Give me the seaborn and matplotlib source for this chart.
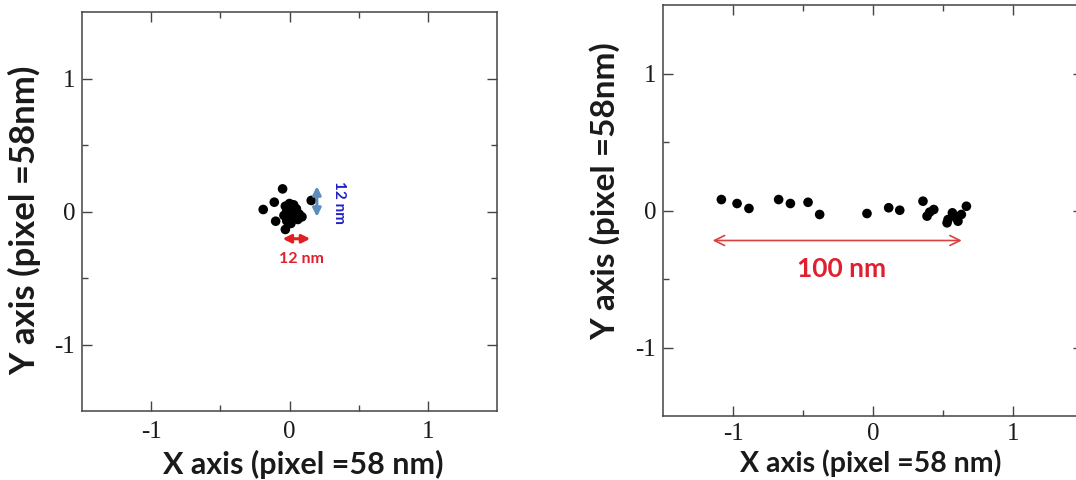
import matplotlib
matplotlib.use("Agg")
import matplotlib.pyplot as plt
import seaborn as sns
import pandas as pd

# ---- data ----
left_x = [-0.05, -0.11, -0.19, -0.10, -0.03, 0.157,
          -0.03, 0.00, 0.03, 0.05, -0.02, 0.01, 0.04, 0.07, 0.09, -0.04,
          0.00, 0.03, 0.06, -0.02, 0.01, 0.02, -0.01, 0.05]
left_y = [0.17, 0.07, 0.015, -0.073, -0.135, 0.083,
          0.04, 0.06, 0.05, 0.02, 0.00, 0.01, -0.01, -0.02, -0.04, -0.03,
          -0.04, -0.05, -0.06, -0.07, -0.09, -0.02, 0.03, -0.03]

right_x = [-1.083, -0.971, -0.886, -0.674, -0.590, -0.464, -0.381,
           -0.043, 0.112, 0.191, 0.357, 0.386, 0.434, 0.405,
           0.536, 0.567, 0.596, 0.631, 0.667, 0.529, 0.607]
right_y = [0.080, 0.051, 0.015, 0.080, 0.051, 0.060, -0.029,
           -0.022, 0.020, 0.002, 0.068, -0.041, 0.007, -0.012,
           -0.066, -0.017, -0.053, -0.029, 0.031, -0.090, -0.078]

tick_vals = [-1, 0, 1]
tick_labels = ["-1", "0", "1"]
minor_vals = [-0.5, 0.5]
xlabel_text = "X axis (pixel =58 nm)"
ylabel_text = "Y axis (pixel =58nm)"
scale_left = "12 nm"
scale_right = "100 nm"

sns.set_style("ticks")
plt.rcParams['font.family'] = ['Lato', 'DejaVu Sans']

W, H = 1076, 480
fig = plt.figure(figsize=(W / 100, H / 100), dpi=100)
ax1 = fig.add_axes([82 / W, 1 - 411 / H, 415 / W, 399 / H])
ax2 = fig.add_axes([663 / W, 1 - 416 / H, 420 / W, 411 / H])

df_l = pd.DataFrame({"x": left_x, "y": left_y})
df_r = pd.DataFrame({"x": right_x, "y": right_y})
sns.scatterplot(data=df_l, x="x", y="y", ax=ax1, color="black", s=48, edgecolor="none")
sns.scatterplot(data=df_r, x="x", y="y", ax=ax2, color="black", s=48, edgecolor="none")

for ax, ylsize in ((ax1, 25), (ax2, 24)):
    ax.set_xlim(-1.5, 1.5)
    ax.set_ylim(-1.5, 1.5)
    ax.set_xticks(tick_vals)
    ax.set_xticklabels(tick_labels, family="Liberation Serif", fontsize=18, color="#1a1a1a")
    ax.set_yticks(tick_vals)
    ax.set_yticklabels(tick_labels, family="Liberation Serif", fontsize=18, color="#1a1a1a")
    ax.set_xticks(minor_vals, minor=True)
    ax.set_yticks(minor_vals, minor=True)
    ax.tick_params(which="both", direction="in", top=True, right=True, color="#444444", width=1.0)
    ax.tick_params(which="major", length=7)
    ax.tick_params(which="minor", length=4)
    for sp in ax.spines.values():
        sp.set_color("#444444")
        sp.set_linewidth(1.1)
    ax.set_ylabel(ylabel_text, fontsize=ylsize, fontweight="bold", color="#1a1a1a")
    ax.yaxis.label.set_verticalalignment("center")

ax1.set_xlabel(xlabel_text, fontsize=22, fontweight="bold", color="#1a1a1a")
ax2.set_xlabel(xlabel_text, fontsize=20.5, fontweight="bold", color="#1a1a1a")
ax1.xaxis.label.set_verticalalignment("center")
ax2.xaxis.label.set_verticalalignment("center")

ax1.tick_params(axis="x", which="major", pad=7)
ax1.tick_params(axis="y", which="major", pad=5)
ax2.tick_params(axis="x", which="major", pad=5)
ax2.tick_params(axis="y", which="major", pad=5)

ax1.xaxis.set_label_coords(0.533, -0.135)
ax1.yaxis.set_label_coords(-0.137, 0.479)
ax2.xaxis.set_label_coords(0.495, -0.116)
ax2.yaxis.set_label_coords(-0.138, 0.547)

# left annotations
ax1.annotate("", xy=(0.198, 0.19), xytext=(0.198, -0.04),
             arrowprops=dict(arrowstyle="<|-|>", color="#5b8dbd", lw=2.2, mutation_scale=12,
                             shrinkA=0, shrinkB=0))
ax1.text(0.36, 0.07, scale_left, rotation=-90, color="#2020c8", fontsize=11,
         fontweight="bold", ha="center", va="center")
ax1.annotate("", xy=(-0.05, -0.205), xytext=(0.15, -0.205),
             arrowprops=dict(arrowstyle="<|-|>", color="#e02020", lw=2.2, mutation_scale=12,
                             shrinkA=0, shrinkB=0))
ax1.text(0.085, -0.36, scale_left, color="#e02030", fontsize=11.5,
         fontweight="bold", ha="center", va="center")

# right annotations
ax2.annotate("", xy=(-1.145, -0.219), xytext=(0.634, -0.219),
             arrowprops=dict(arrowstyle="<->", color="#d9413e", lw=1.2, mutation_scale=18,
                             shrinkA=0, shrinkB=0))
ax2.text(-0.224, -0.43, scale_right, color="#e02030", fontsize=19,
         fontweight="bold", ha="center", va="center")

fig.savefig("out.png", dpi=100)
